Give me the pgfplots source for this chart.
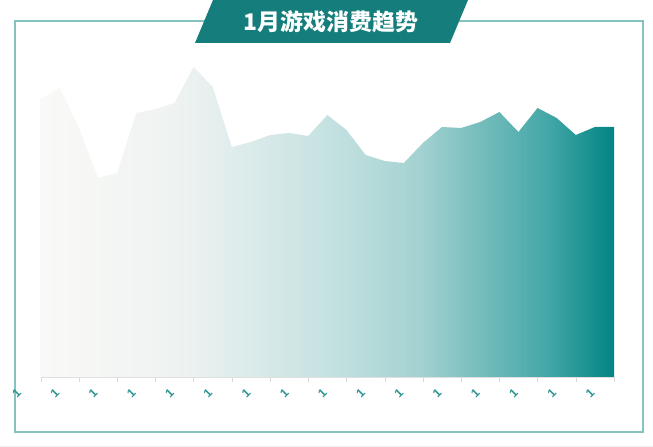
\documentclass[border=0pt]{standalone}
\usepackage{pgfplots}
\pgfplotsset{compat=1.18}
\usepackage{pgfplotstable}
\usepackage{fontspec}
\setmainfont{Liberation Sans}
\newfontfamily\cjk{Noto Sans CJK SC}

\definecolor{banner}{HTML}{157E7C}
\definecolor{framec}{HTML}{86C2BF}
\definecolor{labc}{HTML}{2A9592}
\definecolor{g0}{HTML}{FAF9F7}
\definecolor{g1}{HTML}{EDF2F1}
\definecolor{g2}{HTML}{C5E2E1}
\definecolor{g3}{HTML}{A3D2D1}
\definecolor{g4}{HTML}{7CC0BF}
\definecolor{g5}{HTML}{45A8A8}
\definecolor{g6}{HTML}{038485}
\pgfdeclarehorizontalshading{trend}{100bp}{color(0bp)=(g0); color(25bp)=(g0);
  color(37.5bp)=(g1); color(50bp)=(g2); color(58bp)=(g3); color(62.5bp)=(g4);
  color(69bp)=(g5); color(75bp)=(g6); color(100bp)=(g6)}

% daily spend, January
\pgfplotstableread{
day val
1 278
2 289
3 249
4 199
5 204
6 264
7 268
8 274
9 310
10 290
11 230
12 235
13 242
14 244
15 241
16 262
17 247
18 222
19 216
20 214
21 234
22 250
23 249
24 255
25 265
26 245
27 269
28 259
29 242
30 250
31 250
}\spend

\begin{document}
\begin{tikzpicture}[x=1bp,y=1bp]
  \path[use as bounding box] (0,0) rectangle (653,447);
  \fill[white] (0,0) rectangle (653,447);
  \draw[gray!12] (0,1) -- (653,1);
  \draw[framec, line width=1.4bp] (15,15) rectangle (643,426);
  \begin{axis}[
    at={(40.7bp,70bp)}, anchor=south west,
    scale only axis,
    x=19.11bp, y=1bp,
    xmin=1, xmax=31, ymin=0, ymax=320,
    axis y line=none,
    axis x line*=bottom,
    axis line style={draw=gray!25},
    xtick={1,3,...,31},
    xticklabel={1},
    tick align=outside,
    major tick length=5bp,
    tick style={draw=gray!30},
    xticklabel style={rotate=45, anchor=center, xshift=-25bp, yshift=9bp,
      text=labc, font=\bfseries\fontsize{12}{12}\selectfont},
    clip=false,
  ]
    \addplot[draw=none, shading=trend] table[x=day, y=val] {\spend} \closedcycle;
  \end{axis}
  \fill[banner] (213,447) -- (468,447) -- (450,404) -- (195,404) -- cycle;
  \node[text=white, font=\cjk\bfseries\fontsize{23}{26}\selectfont] at (331,425) {1月游戏消费趋势};
\end{tikzpicture}
\end{document}
